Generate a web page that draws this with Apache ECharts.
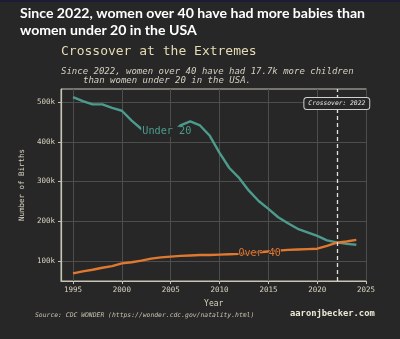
<!DOCTYPE html>
<html>
<head>
<meta charset="utf-8">
<script src="https://cdn.jsdelivr.net/npm/echarts@6/dist/echarts.min.js"></script>
<style>
html,body{margin:0;padding:0;background:#272727;}
#c{width:400px;height:339px;}
</style>
</head>
<body>
<div id="c"></div>
<script>
const years = [1995,1996,1997,1998,1999,2000,2001,2002,2003,2004,2005,2006,2007,2008,2009,2010,2011,2012,2013,2014,2015,2016,2017,2018,2019,2020,2021,2022,2023,2024];
const under20 = [512000,502000,494000,494000,485000,478000,453000,432000,421000,422000,421000,441000,451000,441000,415000,372000,334000,309000,277000,251000,231000,210000,195000,181000,172000,163000,152000,147000,143000,141000];
const over40 = [69000,74000,78000,83000,87000,94000,97000,101000,106000,109000,111000,113000,114000,115000,115000,116000,117000,118000,120000,122000,124000,126000,128000,129000,130000,131000,138000,146000,149000,153000];
const xTicks = [1995,2000,2005,2010,2015,2020,2025];
const yTicks = [100000,200000,300000,400000,500000];
const crossoverYear = 2022;

const BG = '#272727';
const TEAL = '#4d9b8d';
const ORANGE = '#e0782f';
const TXT = '#d9d4c0';
const MONO = '"DejaVu Sans Mono", monospace';

const chart = echarts.init(document.getElementById('c'), null, {renderer:'canvas'});
chart.setOption({
  backgroundColor: BG,
  animation: false,
  graphic: [
    {type:'rect', shape:{x:0,y:0,width:400,height:2}, style:{fill:'#1c1c34'}},
    {type:'text', left:20, top:6, style:{text:'Since 2022, women over 40 have had more babies than', font:'bold 14.1px Lato', fill:'#ffffff'}},
    {type:'text', left:20, top:23, style:{text:'women under 20 in the USA', font:'bold 14.1px Lato', fill:'#ffffff'}},
    {type:'text', left:61, top:45, style:{text:'Crossover at the Extremes', font:'13px ' + MONO, fill:'#e6dcb4'}},
    {type:'text', left:61, top:67, style:{text:'Since 2022, women over 40 have had 17.7k more children', font:'italic 9px ' + MONO, fill:'#d4cfc0'}},
    {type:'text', left:83, top:76, style:{text:'than women under 20 in the USA.', font:'italic 9px ' + MONO, fill:'#d4cfc0'}},
    {type:'text', left:35, top:312, style:{text:'Source: CDC WONDER (https://wonder.cdc.gov/natality.html)', font:'italic 6.4px ' + MONO, fill:'#c8c3b0'}},
    {type:'text', left:290, top:309, style:{text:'aaronjbecker.com', font:'bold 8.8px ' + MONO, fill:'#ece8d6'}}
  ],
  grid: {left:61, top:89, width:305.5, height:192, show:true, borderColor:'#c9c5b5', borderWidth:1, backgroundColor:BG},
  xAxis: {
    type:'value', min:1993.77, max:2025.04,
    name:'Year', nameLocation:'middle', nameGap:19,
    nameTextStyle:{color:TXT, fontFamily:MONO, fontSize:8},
    axisLine:{show:true, lineStyle:{color:'#c9c5b5', width:1.2}},
    axisTick:{show:true, length:3, customValues:xTicks, lineStyle:{color:'#c9c5b5'}},
    axisLabel:{customValues:xTicks, color:TXT, fontFamily:MONO, fontSize:7.5, margin:5, formatter:v=>String(v)},
    splitLine:{show:true, lineStyle:{color:'#4d4d4d', width:1}}
  },
  yAxis: {
    type:'value', min:49700, max:532700,
    name:'Number of Births', nameLocation:'middle', nameGap:31,
    nameTextStyle:{color:TXT, fontFamily:MONO, fontSize:7.5},
    axisLine:{show:true, lineStyle:{color:'#c9c5b5', width:1.2}},
    axisTick:{show:true, length:3, customValues:yTicks, lineStyle:{color:'#c9c5b5'}},
    axisLabel:{customValues:yTicks, color:TXT, fontFamily:MONO, fontSize:7.5, margin:6, formatter:v=>Math.round(v/1000)+'k'},
    splitLine:{show:true, lineStyle:{color:'#4d4d4d', width:1}}
  },
  series: [
    {
      type:'line', name:'Under 20', data: years.map((y,i)=>[y, under20[i]]),
      showSymbol:false, smooth:false, lineStyle:{color:TEAL, width:2.4}, itemStyle:{color:TEAL}, z:3,
      markPoint:{
        symbol:'rect', symbolSize:1, itemStyle:{color:'rgba(0,0,0,0)'}, silent:true,
        label:{show:true, position:'inside', formatter:'Under 20', color:TEAL, fontFamily:MONO, fontSize:10.2,
               backgroundColor:BG, padding:[0,1]},
        data:[{coord:[2004.6, 425000]}]
      }
    },
    {
      type:'line', name:'Over 40', data: years.map((y,i)=>[y, over40[i]]),
      showSymbol:false, smooth:false, lineStyle:{color:ORANGE, width:2.4}, itemStyle:{color:ORANGE}, z:4,
      markPoint:{
        symbol:'rect', symbolSize:1, itemStyle:{color:'rgba(0,0,0,0)'}, silent:true,
        label:{show:true, position:'inside', formatter:'Over 40', color:ORANGE, fontFamily:MONO, fontSize:10,
               textBorderColor:BG, textBorderWidth:1.6},
        data:[{coord:[2014.1, 119500]}]
      },
      markLine:{
        symbol:['none','none'], silent:true, label:{show:false},
        lineStyle:{type:[4,3], color:'#e2e2e2', width:1.3},
        data:[{xAxis:crossoverYear}]
      }
    },
    {
      type:'scatter', data:[], silent:true,
      markPoint:{
        symbol:'rect', symbolSize:1, itemStyle:{color:'rgba(0,0,0,0)'}, silent:true,
        label:{show:true, position:'inside', formatter:'Crossover: ' + crossoverYear, color:'#e8e8e8',
               fontFamily:MONO, fontStyle:'italic', fontSize:6.3,
               backgroundColor:BG, borderColor:'#d0d0d0', borderWidth:1, borderRadius:2.5, padding:[3,4,2,4]},
        data:[{coord:[crossoverYear, 496000]}]
      }
    }
  ]
});
</script>
</body>
</html>
